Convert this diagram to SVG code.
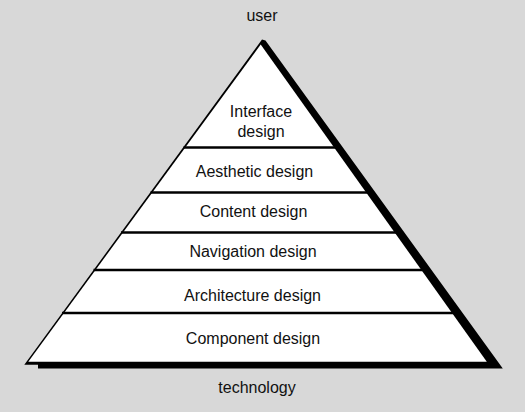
<svg xmlns="http://www.w3.org/2000/svg" width="525" height="412" viewBox="0 0 525 412">
<style>
  text { font-family: "Liberation Sans", Arial, sans-serif; font-size: 16px; fill: #111; text-anchor: middle; }
  .sep { stroke: #000; stroke-width: 2.4; }
</style>
<rect x="0" y="0" width="525" height="412" fill="#d8d8d8"/>
<g id="pyramid">
  <polygon points="262,39.5 265.5,40.5 502.8,368.5 38,368.5 38,364.8 24.3,364.8" fill="#000"/>
  <polygon points="260.7,44.5 486.8,361.8 28.3,361.8" fill="#fff"/>
</g>
<g id="connectors">
  <line class="sep" x1="183.5" y1="147.5" x2="336" y2="147.5"/>
  <line class="sep" x1="150.5" y1="192.5" x2="368" y2="192.5"/>
  <line class="sep" x1="121" y1="232.5" x2="397" y2="232.5"/>
  <line class="sep" x1="93.5" y1="270" x2="424" y2="270"/>
  <line class="sep" x1="62" y1="313" x2="455" y2="313"/>
</g>
<g id="label-user"><text x="262" y="21">user</text></g>
<g id="layer-interface"><text x="261" y="117">Interface</text><text x="261" y="137">design</text></g>
<g id="layer-aesthetic"><text x="254.5" y="177">Aesthetic design</text></g>
<g id="layer-content"><text x="253.5" y="217">Content design</text></g>
<g id="layer-navigation"><text x="253" y="257">Navigation design</text></g>
<g id="layer-architecture"><text x="252.5" y="300.5">Architecture design</text></g>
<g id="layer-component"><text x="253" y="344">Component design</text></g>
<g id="label-technology"><text x="257" y="392.5">technology</text></g>
</svg>
